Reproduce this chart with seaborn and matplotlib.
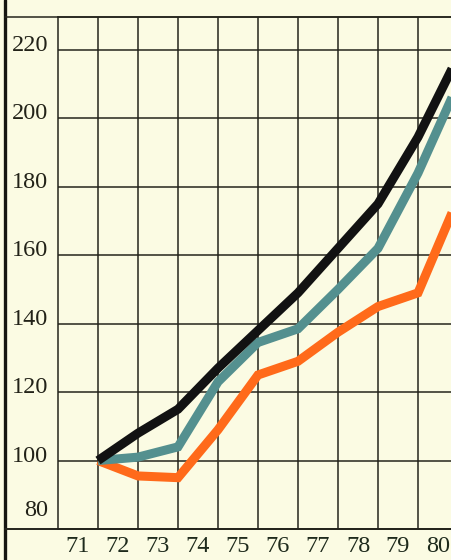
import matplotlib
matplotlib.use("Agg")
import matplotlib.pyplot as plt
from matplotlib.lines import Line2D
from matplotlib.transforms import ScaledTranslation
import seaborn as sns
import pandas as pd

# Index values, 1971 = 100
years = [71, 72, 73, 74, 75, 76, 77, 78, 79, 80]
black_series = [100, 108, 115, 127, 138, 149, 162, 175, 194.5, 218]
teal_series = [100, 101, 104, 123, 134.5, 138.5, 150, 162, 184, 210]
orange_series = [100, 95.5, 95, 109, 125, 129, 137.5, 145, 149, 176.5]

y_ticks = [80, 100, 120, 140, 160, 180, 200, 220]
x_labels = ["71", "72", "73", "74", "75", "76", "77", "78", "79", "80"]

paper = "#fbfbe3"
ink = "#24241c"

df = pd.concat([
    pd.DataFrame({"year": years, "index": orange_series, "series": "orange"}),
    pd.DataFrame({"year": years, "index": teal_series, "series": "teal"}),
    pd.DataFrame({"year": years, "index": black_series, "series": "black"}),
])
palette = {"orange": "#ff6a1a", "teal": "#54908f", "black": "#121212"}

sns.set_theme(style="white")
plt.rcParams["font.family"] = ["Liberation Serif", "DejaVu Serif"]

fig = plt.figure(figsize=(4.52, 5.60), dpi=100, facecolor=paper)
W, H = 452, 560
ax = fig.add_axes([58 / W, (H - 529) / H, (W - 58) / W, (529 - 17) / H])
ax.set_facecolor(paper)

sns.lineplot(data=df, x="year", y="index", hue="series", palette=palette,
             linewidth=6.5, legend=False, ax=ax, sort=False,
             estimator=None, zorder=3)
for ln in ax.get_lines():
    ln.set_solid_joinstyle("miter")
    ln.set_solid_capstyle("butt")

ax.set_xlim(70, 79.85)
ax.set_ylim(80, 229.6)

# grid: verticals at year boundaries, horizontals every 20
for xv in range(71, 80):
    ax.axvline(xv, color=ink, lw=1.1, zorder=1)
for yv in y_ticks[1:]:
    ax.axhline(yv, color=ink, lw=1.1, zorder=1)

ax.spines["right"].set_visible(False)
for side in ["left", "top", "bottom"]:
    ax.spines[side].set_color(ink)
    ax.spines[side].set_linewidth(1.1)

ax.set_xlabel("")
ax.set_ylabel("")

# x labels centred in the cells
ax.set_xticks([y - 0.5 for y in years])
ax.set_xticklabels(x_labels, fontsize=17.5, color="#1e2a1c")
ax.tick_params(axis="x", length=0, pad=5)

# y labels sit just above their gridlines
ax.set_yticks(y_ticks)
ax.set_yticklabels([str(v) for v in y_ticks], fontsize=17.5, color="#222218")
ax.tick_params(axis="y", length=0, pad=7)
for lab, v in zip(ax.get_yticklabels(), y_ticks):
    dy = 21 if v == 80 else 7
    lab.set_transform(lab.get_transform() +
                      ScaledTranslation(0, dy / 100, fig.dpi_scale_trans))

# outer frame of the panel
fig.add_artist(Line2D([5 / W, 5 / W], [0, 1], color="#151510", lw=2.4,
                      transform=fig.transFigure))
fig.add_artist(Line2D([5 / W, 1], [(H - 17) / H, (H - 17) / H], color=ink,
                      lw=1.1, transform=fig.transFigure))
fig.add_artist(Line2D([5 / W, 1], [(H - 529) / H, (H - 529) / H], color=ink,
                      lw=1.4, transform=fig.transFigure))

fig.savefig("out.png", dpi=100, facecolor=paper)
